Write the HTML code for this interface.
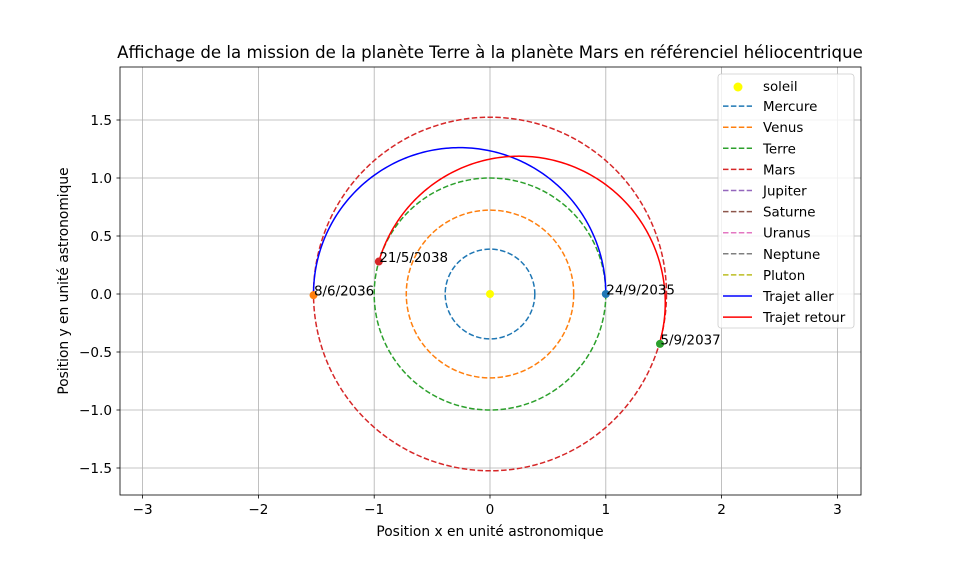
<!DOCTYPE html>
<html><head><meta charset="utf-8"><style>
body{margin:0;background:#fff;}
svg text{font-family:"DejaVu Sans","Liberation Sans",sans-serif;}
</style></head><body>
<svg id="chart" width="956" height="556" xmlns="http://www.w3.org/2000/svg">
<rect width="956" height="556" fill="#fff"/>
<g id="grid"></g>
<g id="marks"></g>
<rect x="120" y="67" width="741" height="428" fill="none" stroke="#000" stroke-width="0.8"/>
<g id="axes"></g>
<text x="490" y="58" text-anchor="middle" font-size="16.6">Affichage de la mission de la planète Terre à la planète Mars en référenciel héliocentrique</text>
<text x="490" y="536" text-anchor="middle" font-size="13.8">Position x en unité astronomique</text>
<text transform="translate(68,281) rotate(-90)" text-anchor="middle" font-size="13.8">Position y en unité astronomique</text>
<g id="legend"></g>
</svg>
<script>
const xTicks=[-3,-2,-1,0,1,2,3];
const yTicks=[-1.5,-1.0,-0.5,0.0,0.5,1.0,1.5];
const yTickLabels=["−1.5","−1.0","−0.5","0.0","0.5","1.0","1.5"];
const xTickLabels=["−3","−2","−1","0","1","2","3"];
const planetNames=["Mercure","Venus","Terre","Mars"];
const planetRadii=[0.387,0.723,1.0,1.524];
const planetColors=["#1f77b4","#ff7f0e","#2ca02c","#d62728"];
const legendNames=["Mercure","Venus","Terre","Mars","Jupiter","Saturne","Uranus","Neptune","Pluton"];
const legendColors=["#1f77b4","#ff7f0e","#2ca02c","#d62728","#9467bd","#8c564b","#e377c2","#7f7f7f","#bcbd22"];
// transfers: start radius, end radius, start angle (deg)
const transferR1=[1.0,1.524];
const transferR2=[1.524,1.0];
const transferStartDeg=[0,-16.3];
const transferColors=["#0000ff","#ff0000"];
const transferNames=["Trajet aller","Trajet retour"];
const eventLabels=["24/9/2035","8/6/2036","5/9/2037","21/5/2038"];
const eventX=[1.0,-1.524,1.468,-0.96];
const eventY=[0.0,-0.01,-0.43,0.28];
const eventColors=["#1f77b4","#ff7f0e","#2ca02c","#d62728"];

const NS="http://www.w3.org/2000/svg";
const sx=v=>490+v*115.8, sy=v=>294-v*116;
function mk(t,a,p){const e=document.createElementNS(NS,t);for(const k in a)e.setAttribute(k,a[k]);p.appendChild(e);return e;}
const grid=document.getElementById('grid'),axes=document.getElementById('axes'),marks=document.getElementById('marks'),leg=document.getElementById('legend');
xTicks.forEach((v,i)=>{
 const g=mk('line',{x1:sx(v),x2:sx(v),y1:67,y2:495,stroke:'#b0b0b0','stroke-width':0.8},grid);
 
 mk('line',{x1:sx(v),x2:sx(v),y1:495,y2:498.5,stroke:'#000','stroke-width':0.8},axes);
 const t=mk('text',{x:sx(v),y:514,'text-anchor':'middle','font-size':13.6},axes);t.textContent=xTickLabels[i];
 
});
yTicks.forEach((v,i)=>{
 const g=mk('line',{x1:120,x2:861,y1:sy(v),y2:sy(v),stroke:'#b0b0b0','stroke-width':0.8},grid);
 
 mk('line',{x1:116.5,x2:120,y1:sy(v),y2:sy(v),stroke:'#000','stroke-width':0.8},axes);
 const t=mk('text',{x:112,y:sy(v)+4.8,'text-anchor':'end','font-size':13.6},axes);t.textContent=yTickLabels[i];
 
});
planetRadii.forEach((r,i)=>{
 const e=mk('ellipse',{cx:sx(0),cy:sy(0),rx:r*115.8,ry:r*116,fill:'none',stroke:planetColors[i],'stroke-width':1.5,'stroke-dasharray':'5.5,2.4'},marks);
 
});
const sun=mk('circle',{cx:sx(0),cy:sy(0),r:4,fill:'#ffff00'},marks);

transferR1.forEach((r1,i)=>{
 const r2=transferR2[i],a=(r1+r2)/2,e=Math.abs(r2-r1)/(r1+r2),p=a*(1-e*e);
 const th0=transferStartDeg[i]*Math.PI/180;
 const peri= r1<r2? th0 : th0+Math.PI;
 const ux=Math.cos(peri),uy=Math.sin(peri);
 let d='';
 for(let k=0;k<=200;k++){const th=th0+Math.PI*k/200;const r=p/(1+e*Math.cos(th-peri));
  let x=r*Math.cos(th),y=r*Math.sin(th);
  const along=x*ux+y*uy,perp=(-x*uy+y*ux)*1.022;
  x=along*ux-perp*uy;y=along*uy+perp*ux;
  d+=(k?'L':'M')+sx(x).toFixed(2)+' '+sy(y).toFixed(2);}
 const pa=mk('path',{d:d,fill:'none',stroke:transferColors[i],'stroke-width':1.5},marks);
 
});
eventX.forEach((x,i)=>{
 const c=mk('circle',{cx:sx(x),cy:sy(eventY[i]),r:4,fill:eventColors[i]},marks);
 
 const t=mk('text',{x:sx(x)+0.5,y:sy(eventY[i])+0.5,'font-size':13.4},marks);t.textContent=eventLabels[i];
 
});
const lb=mk('rect',{x:718,y:74,width:136,height:254,rx:3,fill:'#fff','fill-opacity':0.8,stroke:'#ccc','stroke-width':0.8},leg);

let ly=86;
const sl=mk('circle',{cx:738,cy:ly+1,r:4.5,fill:'#ffff00'},leg);

let st=mk('text',{x:763,y:ly+5,'font-size':13.4},leg);st.textContent='soleil';

legendNames.forEach((n,i)=>{
 ly+=21.1;
 const l=mk('line',{x1:723,x2:752,y1:ly-1,y2:ly-1,stroke:legendColors[i],'stroke-width':1.5,'stroke-dasharray':'5.5,2.4'},leg);
 
 const t=mk('text',{x:763,y:ly+4,'font-size':13.4},leg);t.textContent=n;
 
});
transferNames.forEach((n,i)=>{
 ly+=21.1;
 const l=mk('line',{x1:723,x2:752,y1:ly-1,y2:ly-1,stroke:transferColors[i],'stroke-width':1.5},leg);
 
 const t=mk('text',{x:763,y:ly+4,'font-size':13.4},leg);t.textContent=n;
 
});
</script>
</body></html>
